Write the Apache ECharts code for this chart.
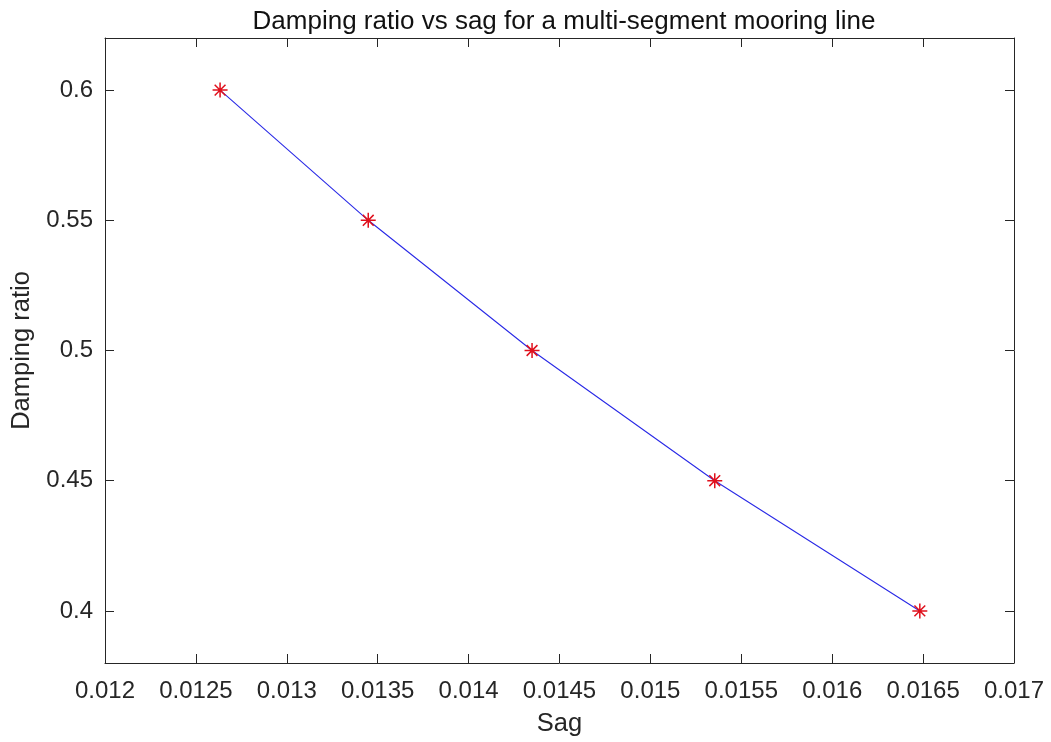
<!DOCTYPE html>
<html><head><meta charset="utf-8">
<script src="https://cdn.jsdelivr.net/npm/echarts@6/dist/echarts.min.js"></script>
<style>html,body{margin:0;padding:0;background:#fff}#c{width:1051px;height:742px}</style>
</head><body><div id="c"></div>
<script>
const sagValues = [0.012633, 0.013448, 0.014349, 0.015354, 0.016482];
const dampingValues = [0.60, 0.55, 0.50, 0.45, 0.40];
const yTickValues = [0.4, 0.45, 0.5, 0.55, 0.6];
const xTickValues = [0.012, 0.0125, 0.013, 0.0135, 0.014, 0.0145, 0.015, 0.0155, 0.016, 0.0165, 0.017];

const axisColor = '#262626';
const font = 'Liberation Sans, Arial, sans-serif';
const fmt = v => String(parseFloat(v.toPrecision(6)));
const star = 'path://M0,-1L0,1M-1,0L1,0M-0.72,-0.72L0.72,0.72M-0.72,0.72L0.72,-0.72';

const chart = echarts.init(document.getElementById('c'), null, {renderer: 'canvas'});
const xBase = {
  type: 'value', min: 0.012, max: 0.017, interval: 0.0005,
  axisLine: {show: true, lineStyle: {color: axisColor, width: 1}},
  axisTick: {show: true, inside: true, length: 9, lineStyle: {color: axisColor}},
  splitLine: {show: false}
};
const yBase = {
  type: 'value', min: 0.38, max: 0.62,
  axisLine: {show: true, lineStyle: {color: axisColor, width: 1}},
  axisTick: {show: true, inside: true, length: 9, customValues: yTickValues, lineStyle: {color: axisColor}},
  splitLine: {show: false}
};
chart.setOption({
  animation: false,
  backgroundColor: '#fff',
  title: {
    text: 'Damping ratio vs sag for a multi-segment mooring line',
    left: 559, top: 4, textAlign: 'center',
    textStyle: {fontFamily: font, fontSize: 26, fontWeight: 'normal', color: '#111'}
  },
  grid: {left: 105, right: 37, top: 38, bottom: 78},
  xAxis: [
    Object.assign({}, xBase, {
      position: 'bottom',
      name: 'Sag', nameLocation: 'middle', nameGap: 48,
      nameTextStyle: {fontFamily: font, fontSize: 25.5, color: '#262626'},
      axisLabel: {show: true, margin: 16, formatter: fmt, fontFamily: font, fontSize: 24, color: '#262626'}
    }),
    Object.assign({}, xBase, {position: 'top', axisLabel: {show: false}})
  ],
  yAxis: [
    Object.assign({}, yBase, {
      position: 'left',
      name: 'Damping ratio', nameLocation: 'middle', nameGap: 67,
      nameTextStyle: {fontFamily: font, fontSize: 25.5, color: '#262626'},
      axisLabel: {show: true, margin: 12, customValues: yTickValues, formatter: fmt, fontFamily: font, fontSize: 24, color: '#262626'}
    }),
    Object.assign({}, yBase, {position: 'right', axisLabel: {show: false}})
  ],
  series: [{
    type: 'line',
    data: sagValues.map((s, i) => [s, dampingValues[i]]),
    lineStyle: {color: '#2a2ae6', width: 1.1},
    symbol: star, symbolSize: 15,
    itemStyle: {color: 'none', borderColor: '#e0101c', borderWidth: 1.5},
    showSymbol: true, z: 3
  }]
});
</script></body></html>
